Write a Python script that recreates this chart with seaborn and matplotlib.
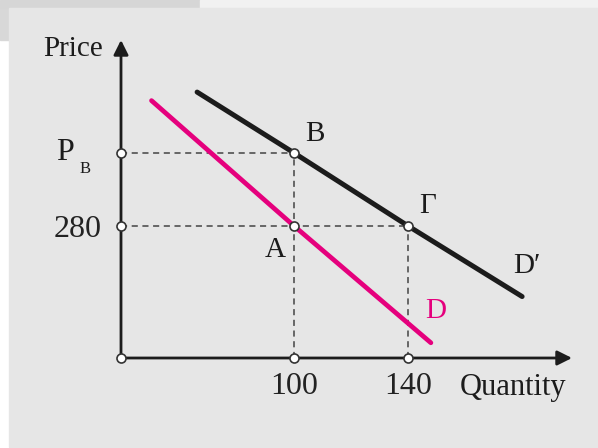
import matplotlib
matplotlib.use("Agg")
import matplotlib.pyplot as plt
import matplotlib.patches as mpatches
import pandas as pd
import seaborn as sns

# demand curves (quantity, price)
d_qty = [50, 100, 148]
d_price = [383, 280, 184]
d2_qty = [66, 100, 140, 180]
d2_price = [390, 340, 280, 222]

# marked points
q_ticks = [100, 140]
q_labels = ["100", "140"]
p_base = 280
p_b = 340
point_names = ["B", "A", "Γ"]
point_qty = [100, 100, 140]
point_price = [340, 280, 280]

PINK = "#e5007d"
INK = "#1c1c1c"
x0, x1 = 39.3, 197.5
y0, y1 = 171.5, 432.8

sns.set_style("white")
plt.rcParams["font.family"] = ["Liberation Serif", "DejaVu Serif"]

fig = plt.figure(figsize=(5.98, 4.48), dpi=100, facecolor="white")


def bg(x, y, w, h, color):
    # screenshot background pieces, given in picture pixels
    fig.patches.append(mpatches.Rectangle((x / 598, 1 - (y + h) / 448), w / 598, h / 448,
                                          transform=fig.transFigure, color=color,
                                          zorder=-10))


bg(0, 8, 9, 32, "#d8d8d8")
bg(0, 0, 200, 8, "#d6d6d6")
bg(200, 0, 398, 8, "#f1f1f1")
bg(9, 8, 589, 439, "#e6e6e6")

ax = fig.add_axes([121 / 598, 90 / 448, 451 / 598, 318 / 448])
ax.set_facecolor("none")
ax.set_xlim(x0, x1)
ax.set_ylim(y0, y1)
for s in ax.spines.values():
    s.set_visible(False)


def px(x, y):
    # pixel position in the picture -> data coords, for label placement
    return (x0 + (x - 121) / 451 * (x1 - x0), y0 + (358 - y) / 318 * (y1 - y0))


# axes with arrows
ax.annotate("", xy=(x1, y0), xytext=(x0, y0),
            arrowprops=dict(arrowstyle="-|>", color=INK, lw=2, mutation_scale=22,
                            shrinkA=0, shrinkB=0), annotation_clip=False)
ax.annotate("", xy=(x0, y1), xytext=(x0, y0),
            arrowprops=dict(arrowstyle="-|>", color=INK, lw=2, mutation_scale=22,
                            shrinkA=0, shrinkB=0), annotation_clip=False)

# dashed guides
dash = dict(color="#444444", lw=1.1, ls=(0, (4, 3)), zorder=2)
ax.plot([x0, 100], [p_b, p_b], **dash)
ax.plot([x0, 140], [p_base, p_base], **dash)
ax.plot([100, 100], [y0, p_b], **dash)
ax.plot([140, 140], [y0, p_base], **dash)

df = pd.DataFrame({"q": d_qty, "p": d_price})
df2 = pd.DataFrame({"q": d2_qty, "p": d2_price})
sns.lineplot(data=df, x="q", y="p", ax=ax, color=PINK, lw=3.4,
             solid_capstyle="round", zorder=3, sort=False)
sns.lineplot(data=df2, x="q", y="p", ax=ax, color=INK, lw=3.6,
             solid_capstyle="round", zorder=3, sort=False)

circ = dict(marker="o", ms=6.5, mfc="white", mec="#333333", mew=1.2, ls="none",
            zorder=5, clip_on=False)
ax.plot(point_qty, point_price, **circ)
ax.plot([x0, x0, x0], [y0, p_base, p_b], **circ)
ax.plot(q_ticks, [y0] * len(q_ticks), **circ)

ax.set_xticks(q_ticks, q_labels)
ax.set_yticks([p_base], [str(p_base)])
ax.tick_params(axis="x", length=0, pad=10, labelsize=23, labelcolor="#222222")
ax.tick_params(axis="y", length=0, pad=14, labelsize=23, labelcolor="#222222")
ax.set_xlabel("")
ax.set_ylabel("")

ax.text(*px(513, 387), "Quantity", fontsize=22, ha="center", va="center", color=INK)
ax.text(*px(73, 49), "Price", fontsize=21, ha="center", va="center", color=INK)
ax.text(*px(65, 152), "P", fontsize=23, ha="center", va="center", color=INK)
ax.text(*px(85, 169), "B", fontsize=12, ha="center", va="center", color=INK)

ax.text(*px(315, 134), point_names[0], fontsize=21, ha="center", va="center", color=INK)
ax.text(*px(275, 250), point_names[1], fontsize=21, ha="center", va="center", color=INK)
ax.text(*px(428, 206), point_names[2], fontsize=21, ha="center", va="center", color=INK)
ax.text(*px(527, 266), "D\u2032", fontsize=21, ha="center", va="center", color=INK)
ax.text(*px(436, 311), "D", fontsize=21, ha="center", va="center", color=PINK)

fig.savefig("out.png", dpi=100, facecolor=fig.get_facecolor())
